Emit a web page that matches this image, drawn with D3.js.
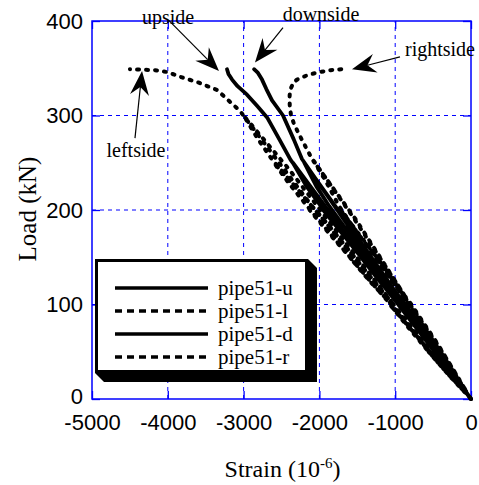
<!DOCTYPE html>
<html>
<head>
<meta charset="utf-8">
<script src="https://cdn.jsdelivr.net/npm/d3@7"></script>
<style>
  body { margin: 0; background: #fff; }
  svg { display: block; }
</style>
</head>
<body>
<script>
// chart size and margins
var width = 479, height = 485;
var margin = {top: 21, right: 8, bottom: 86, left: 92};

// axis ticks
var xTicks = [-5000, -4000, -3000, -2000, -1000, 0];
var yTicks = [0, 100, 200, 300, 400];

// series names (legend order)
var seriesNames = ["pipe51-u", "pipe51-l", "pipe51-d", "pipe51-r"];
var seriesDashed = [false, true, false, true];

// [strain (10^-6), load (kN)], cyclic loading
var pipe51u = [[0,0],[-240,25],[-480,50],[-250,27],[-80,8],[-260,28],[-500,52],[-720,75],[-960,100],
  [-500,55],[-180,20],[-520,58],[-980,103],[-1210,125],[-1450,150],[-930,97],[-420,44],[-960,101],
  [-1470,153],[-1700,175],[-1950,200],[-1300,137],[-700,78],[-250,28],[-900,97],[-1500,155],
  [-1980,204],[-2170,225],[-2350,250],[-1720,182],[-1020,107],[-1780,187],[-2380,253],[-2530,275],
  [-2690,298],[-2820,310],[-2955,322],[-3080,331],[-3152,338],[-3200,344],[-3219,349]];

var pipe51l = [[0,0],[-290,25],[-560,50],[-300,26],[-100,9],[-320,28],[-580,52],[-820,75],[-1070,100],
  [-560,52],[-200,18],[-600,55],[-1090,104],[-1340,125],[-1600,150],[-1040,98],[-470,44],[-1060,101],
  [-1630,153],[-1870,175],[-2130,200],[-1500,145],[-900,88],[-330,30],[-1000,96],[-1650,155],
  [-2150,203],[-2400,228],[-2600,250],[-1900,186],[-1150,112],[-1950,190],[-2630,254],[-2810,275],
  [-3000,300],[-2400,243],[-1700,170],[-1000,98],[-2050,199],[-2700,268],[-3050,305],[-3350,327],
  [-3600,335],[-3800,340],[-4010,346],[-4170,348],[-4500,349]];

var pipe51d = [[0,0],[-220,25],[-440,50],[-230,27],[-70,8],[-240,28],[-460,52],[-660,75],[-880,100],
  [-450,53],[-160,18],[-470,56],[-900,104],[-1120,125],[-1360,150],[-860,96],[-390,44],[-880,100],
  [-1380,153],[-1600,175],[-1850,200],[-1250,140],[-650,76],[-230,27],[-850,96],[-1400,152],
  [-1870,204],[-2040,225],[-2200,250],[-1620,185],[-950,108],[-1660,188],[-2230,254],[-2340,275],
  [-2480,300],[-2625,316],[-2700,328],[-2757,338],[-2810,345],[-2862,349]];

var pipe51r = [[0,0],[-200,25],[-400,50],[-210,27],[-60,8],[-220,28],[-420,52],[-600,75],[-800,100],
  [-420,55],[-150,20],[-430,57],[-820,104],[-1040,125],[-1260,150],[-800,97],[-360,45],[-820,100],
  [-1280,153],[-1490,175],[-1720,200],[-1150,140],[-600,76],[-220,28],[-800,98],[-1300,152],
  [-1740,204],[-1926,232],[-2080,252],[-1520,190],[-880,110],[-1560,193],[-2110,256],[-2229,274],
  [-2330,290],[-2374,300],[-2390,309],[-2395,318],[-2387,327],[-2340,335],[-2295,338],[-2150,343],
  [-1992,346],[-1850,348],[-1701,349]];

var seriesData = [pipe51u, pipe51l, pipe51d, pipe51r];

// annotation labels: text anchor and arrow (start -> tip) in data units
var annoLabels = ["upside", "downside", "rightside", "leftside"];
var annoText = [[-3997,397],[-1979,400],[-409,363],[-4420,256]];
var annoFrom = [[-3990,401],[-2480,393],[-937,362],[-4433,276]];
var annoTip = [[-3325,347],[-2850,356],[-1570,349],[-4340,347]];


var svg = d3.select("body")
  .append("svg")
  .attr("width", width)
  .attr("height", height);

var xScale = d3.scaleLinear()
  .domain([-5000, 0])
  .range([margin.left, width - margin.right]);

var yScale = d3.scaleLinear()
  .domain([0, 400])
  .range([height - margin.bottom, margin.top]);

var blue = "#0000ff";
var x0 = xScale(-5000), x1 = xScale(0), y0 = yScale(0), y1 = yScale(400);

// dashed grid
svg.append("g").selectAll("line")
  .data(xTicks.slice(1, -1))
  .enter().append("line")
  .attr("x1", function(d){ return xScale(d); })
  .attr("x2", function(d){ return xScale(d); })
  .attr("y1", y0).attr("y2", y1)
  .attr("stroke", blue).attr("stroke-width", 1)
  .attr("stroke-dasharray", "4,4");

svg.append("g").selectAll("line")
  .data(yTicks.slice(1, -1))
  .enter().append("line")
  .attr("y1", function(d){ return yScale(d); })
  .attr("y2", function(d){ return yScale(d); })
  .attr("x1", x0).attr("x2", x1)
  .attr("stroke", blue).attr("stroke-width", 1)
  .attr("stroke-dasharray", "4,4");

// axes: inner ticks, no domain path (frame drawn separately)
var tickFmt = function(d){ return String(d); };

var xAxis = svg.append("g")
  .attr("transform", "translate(0," + y0 + ")")
  .call(d3.axisBottom(xScale).tickValues(xTicks).tickSize(-8).tickPadding(15).tickFormat(tickFmt));
var yAxis = svg.append("g")
  .attr("transform", "translate(" + x0 + ",0)")
  .call(d3.axisLeft(yScale).tickValues(yTicks).tickSize(-8).tickPadding(9).tickFormat(tickFmt));
svg.append("g")
  .attr("transform", "translate(0," + y1 + ")")
  .call(d3.axisTop(xScale).tickValues(xTicks).tickSize(-8).tickFormat(""));
svg.append("g")
  .attr("transform", "translate(" + x1 + ",0)")
  .call(d3.axisRight(yScale).tickValues(yTicks).tickSize(-8).tickFormat(""));

svg.selectAll(".domain").remove();
svg.selectAll(".tick line").attr("stroke", blue).attr("stroke-width", 1.3);
svg.selectAll(".tick text")
  .attr("fill", "#000")
  .style("font-family", "'Liberation Sans', Arial, sans-serif")
  .style("font-size", "22px");
xAxis.selectAll(".tick text").attr("dy", "0.71em");
// "0" on the load axis sits a little above the corner
yAxis.selectAll(".tick text").filter(function(d){ return d === 0; }).attr("dy", "0.2em");

// frame
svg.append("rect")
  .attr("x", x0).attr("y", y1)
  .attr("width", x1 - x0).attr("height", y0 - y1)
  .attr("fill", "none").attr("stroke", blue).attr("stroke-width", 1.5);

// curves
var line = d3.line()
  .x(function(d){ return xScale(d[0]); })
  .y(function(d){ return yScale(d[1]); });

svg.append("g").selectAll("path")
  .data(seriesData)
  .enter().append("path")
  .attr("d", line)
  .attr("fill", "none")
  .attr("stroke", "#000")
  .attr("stroke-width", function(d, i){ return seriesDashed[i] ? 4 : 3.8; })
  .attr("stroke-linejoin", "round")
  .attr("stroke-linecap", "round")
  .attr("stroke-dasharray", function(d, i){ return seriesDashed[i] ? "2,7" : null; });

// annotations with barbed arrows
var serif = "'Liberation Serif', 'Times New Roman', serif";

function arrowHead(xa, ya, xb, yb){
  var dx = xb - xa, dy = yb - ya;
  var len = Math.sqrt(dx*dx + dy*dy);
  var ux = dx/len, uy = dy/len;
  var px = -uy, py = ux;
  var L = 24, W = 9.5, N = 16;
  var bx = xb - ux*L, by = yb - uy*L;
  var nx = xb - ux*N, ny = yb - uy*N;
  return [[xb, yb], [bx + px*W, by + py*W], [nx, ny], [bx - px*W, by - py*W]];
}

var annos = annoLabels.map(function(t, i){
  return {label: t, text: annoText[i], from: annoFrom[i], tip: annoTip[i]};
});

var ag = svg.append("g");
annos.forEach(function(a){
  var xa = xScale(a.from[0]), ya = yScale(a.from[1]);
  var xb = xScale(a.tip[0]), yb = yScale(a.tip[1]);
  var head = arrowHead(xa, ya, xb, yb);
  ag.append("line")
    .attr("x1", xa).attr("y1", ya)
    .attr("x2", head[2][0]).attr("y2", head[2][1])
    .attr("stroke", "#000").attr("stroke-width", 1.2);
  ag.append("polygon")
    .attr("points", head.map(function(p){ return p.join(","); }).join(" "))
    .attr("fill", "#000");
  ag.append("text")
    .attr("x", xScale(a.text[0]))
    .attr("y", yScale(a.text[1]))
    .attr("text-anchor", "middle")
    .style("font-family", serif)
    .style("font-size", "20px")
    .text(a.label);
});

// legend with 3D shadow
var lg = svg.append("g");
var lx = 95, ly = 259, lw = 213, lh = 114, sd = 9;
lg.append("polygon")
  .attr("points", [[lx+lw, ly], [lx+lw+sd, ly+sd], [lx+lw+sd, ly+lh+sd], [lx+sd, ly+lh+sd], [lx, ly+lh]]
    .map(function(p){ return p.join(","); }).join(" "))
  .attr("fill", "#000");
lg.append("rect")
  .attr("x", lx + 1.5).attr("y", ly + 1.5)
  .attr("width", lw - 3).attr("height", lh - 3)
  .attr("fill", "#fff").attr("stroke", "#000").attr("stroke-width", 3);

var rowY = [288, 311, 334, 357];
seriesNames.forEach(function(name, i){
  lg.append("line")
    .attr("x1", 115).attr("x2", 208)
    .attr("y1", rowY[i]).attr("y2", rowY[i])
    .attr("stroke", "#000").attr("stroke-width", 3.6)
    .attr("stroke-dasharray", seriesDashed[i] ? "7,5" : null);
  lg.append("text")
    .attr("x", 218).attr("y", rowY[i] + 7)
    .style("font-family", serif)
    .style("font-size", "21px")
    .text(name);
});

// axis titles
var xt = svg.append("text")
  .attr("x", (x0 + x1) / 2 + 1)
  .attr("y", 477)
  .attr("text-anchor", "middle")
  .style("font-family", serif)
  .style("font-size", "24px");
xt.append("tspan").text("Strain (10");
xt.append("tspan").attr("dy", -9).style("font-size", "15px").text("-6");
xt.append("tspan").attr("dy", 9).text(")");

svg.append("text")
  .attr("transform", "translate(36," + 209 + ") rotate(-90)")
  .attr("text-anchor", "middle")
  .style("font-family", serif)
  .style("font-size", "25px")
  .text("Load (kN)");
</script>
</body>
</html>
